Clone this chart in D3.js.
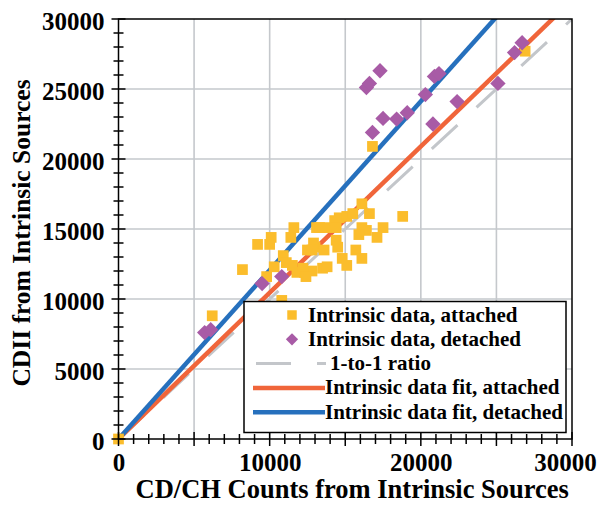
<!DOCTYPE html>
<html>
<head>
<meta charset="utf-8">
<script src="https://cdn.jsdelivr.net/npm/d3@7"></script>
<style>
  body { margin: 0; background: #fff; }
  text { font-family: "Liberation Serif", "Times New Roman", serif; font-weight: bold; fill: #000; }
</style>
</head>
<body>
<div id="chart"></div>
<script>
// data
const attachedX = [0, 6200, 8200, 9200, 10100, 10000, 11400, 11600, 10900, 11100, 9800, 10300, 11500, 11800,
    12300, 12500, 10800, 12800, 13500, 13800, 13000, 13100, 13800, 14300, 14600, 15100, 15500, 16100, 16600,
    13300, 14400, 16100, 16400, 17500, 18800, 15900, 17100, 14400, 14500, 12900, 12800, 13600, 15700, 16100,
    14800, 15100, 12200, 16800, 26900, 12400];
const attachedY = [0, 8800, 12100, 13900, 14400, 13900, 14400, 15100, 13100, 12600, 11600, 12300, 12400, 11900,
    11900, 13500, 9900, 12000, 12200, 12300, 13700, 15100, 15100, 15600, 15800, 15900, 16100, 16800, 16100,
    15100, 15100, 15100, 14900, 15100, 15900, 14600, 14400, 14200, 13700, 14000, 13500, 13500, 13500, 12900,
    12900, 12400, 12200, 20900, 27700, 11600];
const detachedX = [5700, 6100, 9500, 10800, 16400, 16600, 17300, 16800, 17500, 18400, 19100, 20300, 20900,
    21200, 20800, 22400, 25100, 26200, 26700];
const detachedY = [7600, 7800, 11100, 11600, 25100, 25400, 26300, 21900, 22900, 22850, 23300, 24600, 25900,
    26100, 22500, 24100, 25400, 27600, 28300];
const ratioX = [0, 30000], ratioY = [0, 30000];
const fitAttachedX = [0, 30000], fitAttachedY = [0, 31350];
const fitDetachedX = [0, 30000], fitDetachedY = [0, 36180];
const xTickLabels = [0, 10000, 20000, 30000];
const yTickLabels = [0, 5000, 10000, 15000, 20000, 25000, 30000];
const gridValues = [5000, 10000, 15000, 20000, 25000];
const legendNames = ["Intrinsic data, attached", "Intrinsic data, detached", "1-to-1 ratio",
    "Intrinsic data fit, attached", "Intrinsic data fit, detached"];

const W = 600, H = 508;
const margin = {l: 118.5, t: 19, r: 28, b: 69};
const width = W - margin.l - margin.r;
const height = H - margin.t - margin.b;

const colors = {
    attached: "#fbbd2c",
    detached: "#a85ba6",
    ratio: "#c3c6ca",
    fitA: "#f0653a",
    fitD: "#2670bd"
};

let svg = d3.select("#chart").append("svg")
    .attr("width", W).attr("height", H);
let g = svg.append("g").attr("transform", `translate(${margin.l},${margin.t})`);

let x = d3.scaleLinear().domain([0, 30000]).range([0, width]);
let y = d3.scaleLinear().domain([0, 30000]).range([height, 0]);

// grid
g.append("g").selectAll("line.gx").data(gridValues).join("line")
    .attr("x1", d => x(d)).attr("x2", d => x(d))
    .attr("y1", 0).attr("y2", height)
    .attr("stroke", "#c5c8cc").attr("stroke-width", 1.6);
g.append("g").selectAll("line.gy").data(gridValues).join("line")
    .attr("y1", d => y(d)).attr("y2", d => y(d))
    .attr("x1", 0).attr("x2", width)
    .attr("stroke", "#c5c8cc").attr("stroke-width", 1.6);

// clip for the lines
svg.append("clipPath").attr("id", "clip").append("rect")
    .attr("width", width).attr("height", height);
let plot = g.append("g").attr("clip-path", "url(#clip)");

let line = d3.line().x(d => x(d[0])).y(d => y(d[1]));
let zip = (a, b) => a.map((v, i) => [v, b[i]]);

plot.append("path").datum(zip(ratioX, ratioY))
    .attr("d", line).attr("fill", "none")
    .attr("stroke", colors.ratio).attr("stroke-width", 3)
    .attr("stroke-dasharray", "35,26");
plot.append("path").datum(zip(fitAttachedX, fitAttachedY))
    .attr("d", line).attr("fill", "none")
    .attr("stroke", colors.fitA).attr("stroke-width", 4.5);
plot.append("path").datum(zip(fitDetachedX, fitDetachedY))
    .attr("d", line).attr("fill", "none")
    .attr("stroke", colors.fitD).attr("stroke-width", 4.5);

// points
let square = d3.symbol().type(d3.symbolSquare).size(115);
g.append("g").selectAll("path").data(zip(attachedX, attachedY)).join("path")
    .attr("d", square)
    .attr("transform", d => `translate(${x(d[0])},${y(d[1])})`)
    .attr("fill", colors.attached);
let diamond = d3.symbol().type(d3.symbolSquare).size(118);
g.append("g").selectAll("path").data(zip(detachedX, detachedY)).join("path")
    .attr("d", diamond)
    .attr("transform", d => `translate(${x(d[0])},${y(d[1])}) rotate(45)`)
    .attr("fill", colors.detached);

// frame
g.append("rect").attr("width", width).attr("height", height)
    .attr("fill", "none").attr("stroke", "#000").attr("stroke-width", 1.5);

// minor / major ticks crossing the axes
let tickVals = d3.range(0, 30001, 1000);
g.append("g").selectAll("line").data(tickVals).join("line")
    .attr("x1", d => x(d)).attr("x2", d => x(d))
    .attr("y1", d => height - (d % 5000 === 0 ? 7 : 5))
    .attr("y2", d => height + (d % 5000 === 0 ? 7 : 5))
    .attr("stroke", "#000").attr("stroke-width", 1.5);
g.append("g").selectAll("line").data(tickVals).join("line")
    .attr("y1", d => y(d)).attr("y2", d => y(d))
    .attr("x1", d => -(d % 5000 === 0 ? 7 : 5))
    .attr("x2", d => (d % 5000 === 0 ? 7 : 5))
    .attr("stroke", "#000").attr("stroke-width", 1.5);

// tick labels via axes
let axisX = d3.axisBottom(x).tickValues(xTickLabels).tickSize(0).tickPadding(14).tickFormat(d3.format("d"));
let axisY = d3.axisLeft(y).tickValues(yTickLabels).tickSize(0).tickPadding(14).tickFormat(d3.format("d"));
let gx = g.append("g").attr("transform", `translate(0,${height})`).call(axisX);
let gy = g.append("g").call(axisY);
[gx, gy].forEach(a => {
    a.select(".domain").remove();
    a.selectAll("text").attr("font-size", 25).style("font-family", '"Liberation Serif", serif')
        .style("font-weight", "bold").attr("fill", "#000");
});
gx.selectAll("text").attr("dy", "0.71em")
    .attr("dx", d => d === 30000 ? -7 : 0);
gy.selectAll("text").attr("dy", "0.4em");

// axis titles
g.append("text")
    .attr("x", width / 2 + 7).attr("y", height + 59)
    .attr("text-anchor", "middle").attr("font-size", 26.5)
    .text("CD/CH Counts from Intrinsic Sources");
g.append("text")
    .attr("transform", `translate(${30 - margin.l},${height / 2 + 4}) rotate(-90)`)
    .attr("text-anchor", "middle").attr("font-size", 25.5)
    .text("CDII from Intrinsic Sources");

// legend
let lg = svg.append("g").attr("transform", "translate(244,301.5)");
lg.append("rect").attr("width", 322).attr("height", 131)
    .attr("fill", "#fff").attr("stroke", "#000").attr("stroke-width", 1.5);
const rowY = i => 13.5 + i * 24.3;
lg.append("path").attr("d", d3.symbol().type(d3.symbolSquare).size(90))
    .attr("transform", `translate(48,${rowY(0)})`).attr("fill", colors.attached);
lg.append("path").attr("d", d3.symbol().type(d3.symbolSquare).size(75))
    .attr("transform", `translate(48,${rowY(1)}) rotate(45)`).attr("fill", colors.detached);
lg.append("line").attr("x1", 12).attr("x2", 82).attr("y1", rowY(2)).attr("y2", rowY(2))
    .attr("stroke", colors.ratio).attr("stroke-width", 3).attr("stroke-dasharray", "35,26");
lg.append("line").attr("x1", 9).attr("x2", 81).attr("y1", rowY(3)).attr("y2", rowY(3))
    .attr("stroke", colors.fitA).attr("stroke-width", 4.5);
lg.append("line").attr("x1", 9).attr("x2", 81).attr("y1", rowY(4)).attr("y2", rowY(4))
    .attr("stroke", colors.fitD).attr("stroke-width", 4.5);
const textX = [64, 64, 86, 81, 81];
lg.selectAll("text.lab").data(legendNames).join("text")
    .attr("x", (d, i) => textX[i]).attr("y", (d, i) => rowY(i) + 6.5)
    .attr("font-size", 21).text(d => d);
</script>
</body>
</html>
